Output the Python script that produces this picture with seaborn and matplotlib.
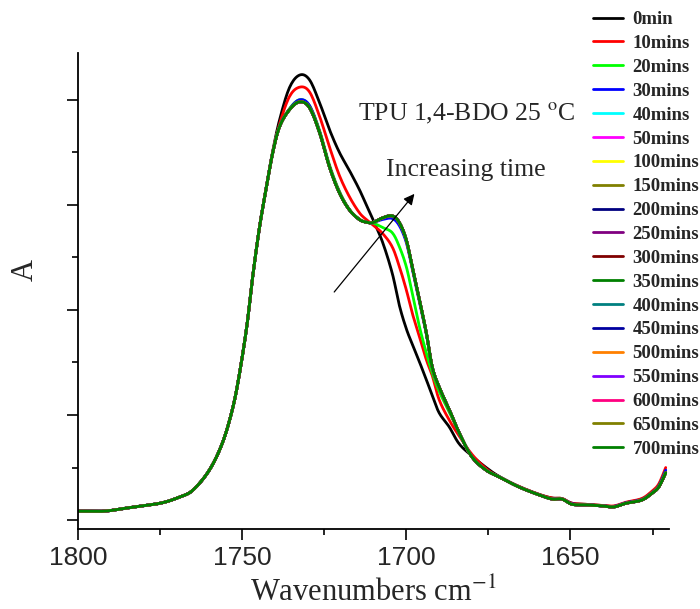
import numpy as np
import pandas as pd
import matplotlib
matplotlib.use("Agg")
import matplotlib.pyplot as plt
import seaborn as sns

# ---------------- data ----------------
wavenumber = [1800, 1792, 1785, 1775, 1769, 1765, 1760, 1756, 1753, 1751,
              1748.6, 1746.8, 1744.7, 1742.6, 1740.7, 1738.6, 1735.6, 1732.5, 1729.5, 1726.4,
              1723.4, 1720.4, 1717.3, 1714.3, 1712.2, 1710.3, 1707.3, 1704.3, 1702.1, 1700.0,
              1698.2, 1696.0, 1693.9, 1692.1, 1690.0, 1686.9, 1683.9, 1680.0, 1675.7, 1671.7,
              1665.7, 1659.6, 1655.6, 1652.6, 1649.5, 1645.3, 1640.4, 1636.8, 1633.1, 1628.3,
              1625.2, 1623.1, 1621.0]

a_0 = [0.017, 0.017, 0.023, 0.032, 0.044, 0.057, 0.095, 0.147, 0.210, 0.272,
       0.368, 0.463, 0.558, 0.636, 0.702, 0.762, 0.823, 0.847, 0.838, 0.794,
       0.743, 0.700, 0.665, 0.629, 0.600, 0.574, 0.530, 0.470, 0.408, 0.364,
       0.335, 0.301, 0.267, 0.237, 0.204, 0.177, 0.145, 0.122, 0.100, 0.083,
       0.064, 0.049, 0.042, 0.041, 0.032, 0.030, 0.028, 0.026, 0.033, 0.040,
       0.053, 0.066, 0.093]

a_10 = [0.017, 0.017, 0.023, 0.032, 0.044, 0.057, 0.095, 0.147, 0.210, 0.272,
        0.368, 0.463, 0.558, 0.635, 0.700, 0.754, 0.806, 0.824, 0.815, 0.768,
        0.710, 0.656, 0.615, 0.585, 0.572, 0.562, 0.546, 0.520, 0.482, 0.438,
        0.394, 0.349, 0.305, 0.275, 0.229, 0.190, 0.160, 0.125, 0.098, 0.082,
        0.064, 0.049, 0.042, 0.041, 0.032, 0.030, 0.028, 0.027, 0.034, 0.041,
        0.055, 0.069, 0.100]

a_20 = [0.017, 0.017, 0.023, 0.032, 0.044, 0.057, 0.095, 0.147, 0.210, 0.272,
        0.368, 0.463, 0.558, 0.634, 0.699, 0.750, 0.783, 0.800, 0.789, 0.741,
        0.676, 0.626, 0.591, 0.573, 0.567, 0.566, 0.557, 0.547, 0.520, 0.482,
        0.432, 0.368, 0.318, 0.280, 0.245, 0.205, 0.166, 0.120, 0.095, 0.082,
        0.063, 0.048, 0.040, 0.040, 0.030, 0.029, 0.027, 0.025, 0.032, 0.039,
        0.052, 0.065, 0.094]

a_30 = [0.017, 0.017, 0.023, 0.032, 0.044, 0.057, 0.095, 0.147, 0.210, 0.272,
        0.368, 0.463, 0.558, 0.634, 0.699, 0.749, 0.782, 0.800, 0.789, 0.739,
        0.673, 0.624, 0.590, 0.572, 0.567, 0.566, 0.572, 0.574, 0.560, 0.528,
        0.478, 0.415, 0.354, 0.291, 0.253, 0.210, 0.166, 0.120, 0.095, 0.082,
        0.063, 0.048, 0.040, 0.040, 0.031, 0.029, 0.027, 0.026, 0.033, 0.039,
        0.052, 0.065, 0.095]

a_late = [0.017, 0.017, 0.023, 0.032, 0.044, 0.057, 0.095, 0.147, 0.210, 0.272,
          0.368, 0.463, 0.558, 0.634, 0.699, 0.749, 0.781, 0.796, 0.785, 0.737,
          0.672, 0.623, 0.590, 0.572, 0.567, 0.566, 0.575, 0.579, 0.566, 0.533,
          0.482, 0.419, 0.356, 0.291, 0.253, 0.210, 0.166, 0.120, 0.095, 0.082,
          0.063, 0.048, 0.040, 0.040, 0.030, 0.029, 0.027, 0.025, 0.032, 0.038,
          0.051, 0.063, 0.090]

time_labels = ["0min", "10mins", "20mins", "30mins", "40mins", "50mins", "100mins",
               "150mins", "200mins", "250mins", "300mins", "350mins", "400mins",
               "450mins", "500mins", "550mins", "600mins", "650mins", "700mins"]
series_for_label = [a_0, a_10, a_20, a_30] + [a_late] * 15
line_colors = ["#000000", "#FF0000", "#00FF00", "#0000FF", "#00FFFF", "#FF00FF",
               "#FFFF00", "#808000", "#000080", "#800080", "#800000", "#008000",
               "#008080", "#0000A0", "#FF8000", "#8000FF", "#FF0080", "#808000",
               "#008000"]

x_ticks = [1800, 1750, 1700, 1650]
title_text = r"TPU 1,4-BDO 25 $^{\mathrm{o}}$C"
arrow_text = "Increasing time"


def catmull(xs, ys, n=10):
    P = np.column_stack([xs, ys]).astype(float)
    P = np.vstack([P[0], P, P[-1]])
    t = np.linspace(0, 1, n, endpoint=False)[:, None]
    out = []
    for i in range(1, len(P) - 2):
        p0, p1, p2, p3 = P[i - 1], P[i], P[i + 1], P[i + 2]
        seg = 0.5 * ((2 * p1) + (-p0 + p2) * t + (2 * p0 - 5 * p1 + 4 * p2 - p3) * t ** 2
                     + (-p0 + 3 * p1 - 3 * p2 + p3) * t ** 3)
        out.append(seg)
    out.append(P[-2][None, :])
    return np.vstack(out)


rows = []
for lab, ys in zip(time_labels, series_for_label):
    pts = catmull(wavenumber, ys)
    for k, (xv, yv) in enumerate(pts):
        rows.append((lab, k, xv, yv))
df = pd.DataFrame(rows, columns=["time", "idx", "wn", "A"])

# ---------------- plot ----------------
sns.set_theme(style="ticks")
plt.rcParams["font.family"] = ["Liberation Serif", "DejaVu Serif"]
plt.rcParams["mathtext.fontset"] = "stix"

fig = plt.figure(figsize=(7.0, 6.09), dpi=100)
ax = fig.add_axes([78 / 700, 1 - 529 / 609, (669 - 78) / 700, (529 - 53) / 609])

sns.lineplot(data=df, x="wn", y="A", hue="time", hue_order=time_labels,
             palette=line_colors, sort=False, estimator=None, linewidth=2.0, ax=ax)

handles, labels = ax.get_legend_handles_labels()
if ax.get_legend() is not None:
    ax.get_legend().remove()

ax.set_xlim(1800, 1620)
ax.set_ylim(-0.017, 0.889)
ax.set_xticks(x_ticks)
ax.set_xticks(np.arange(1625, 1800, 25), minor=True)
ax.set_yticks([0, 0.2, 0.4, 0.6, 0.8])
ax.set_yticks([0.1, 0.3, 0.5, 0.7], minor=True)
ax.set_yticklabels([])
for lbl in ax.get_xticklabels():
    lbl.set_fontfamily("Liberation Sans")
    lbl.set_fontsize(19)
ax.tick_params(axis="both", which="major", length=8, width=1.2, direction="out", color="black", pad=4)
ax.tick_params(axis="both", which="minor", length=4, width=1.2, direction="out", color="black")
for s in ["top", "right"]:
    ax.spines[s].set_visible(False)
for s in ["left", "bottom"]:
    ax.spines[s].set_linewidth(1.3)
    ax.spines[s].set_color("black")

ax.set_xlabel(r"Wavenumbers cm$^{\mathrm{-1}}$", fontsize=22, labelpad=6)
ax.set_ylabel("A", fontsize=22)
ax.yaxis.set_label_coords(-0.064, 0.544)

ax.text(1681.5, 0.773, title_text, fontsize=18.5, ha="center", va="center")
ax.text(1681.8, 0.667, arrow_text, fontsize=18.5, ha="center", va="center")
ax.annotate("", xy=(1697.0, 0.625), xytext=(1722.5, 0.430),
            arrowprops=dict(arrowstyle="-|>", color="black", lw=0.9, mutation_scale=16))

fig.legend(handles, labels, loc="upper left", bbox_to_anchor=(593 / 700, 1 - 11 / 609),
           frameon=False, borderpad=0, borderaxespad=0, handlelength=1.6,
           handletextpad=0.5, labelspacing=0.36,
           prop={"family": "Liberation Serif", "weight": "bold", "size": 13.5})

fig.savefig("out.png", dpi=100)
